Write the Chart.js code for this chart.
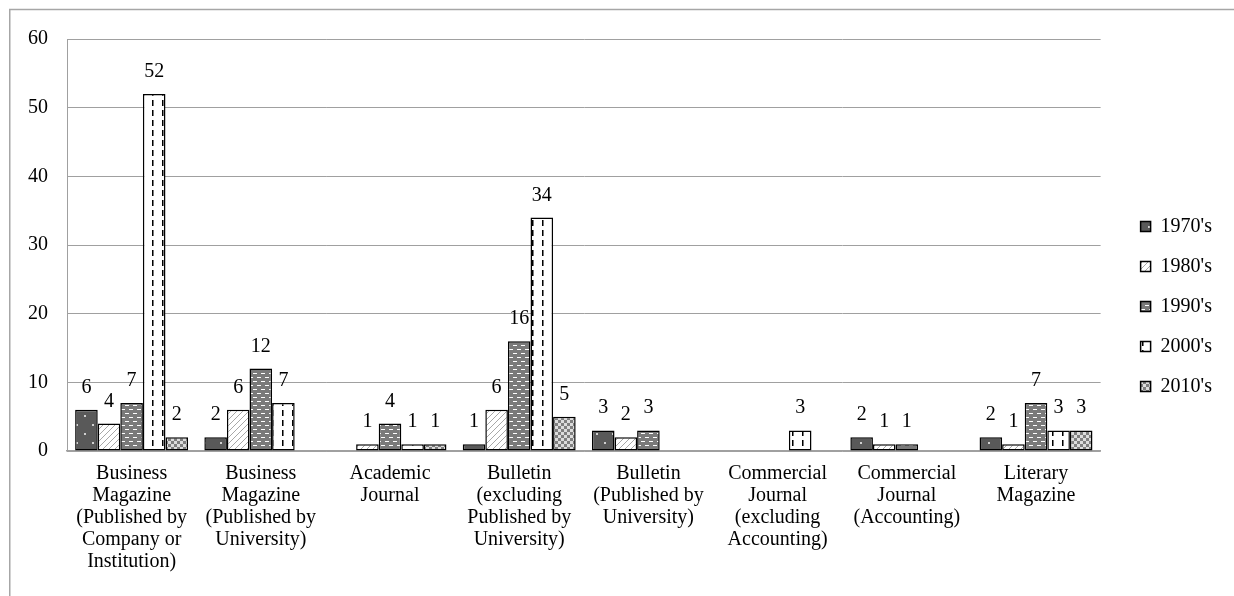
<!DOCTYPE html>
<html>
<head>
<meta charset="utf-8">
<script src="https://cdn.jsdelivr.net/npm/chart.js@4.4.1/dist/chart.umd.min.js"></script>
<style>
  html, body { margin: 0; padding: 0; background: #ffffff; }
  canvas { display: block; }
</style>
</head>
<body>
<canvas id="chart" width="1234" height="596"></canvas>
<script>
// Publication counts by type and decade
const categories = [
  ["Business", "Magazine", "(Published by", "Company or", "Institution)"],
  ["Business", "Magazine", "(Published by", "University)"],
  ["Academic", "Journal"],
  ["Bulletin", "(excluding", "Published by", "University)"],
  ["Bulletin", "(Published by", "University)"],
  ["Commercial", "Journal", "(excluding", "Accounting)"],
  ["Commercial", "Journal", "(Accounting)"],
  ["Literary", "Magazine"]
];
const decades = ["1970's", "1980's", "1990's", "2000's", "2010's"];
const counts1970s = [6, 2, null, 1, 3, null, 2, 2];
const counts1980s = [4, 6, 1, 6, 2, null, 1, 1];
const counts1990s = [7, 12, 4, 16, 3, null, 1, 7];
const counts2000s = [52, 7, 1, 34, null, 3, null, 3];
const counts2010s = [2, null, 1, 5, null, null, null, 3];
const yTicks = [0, 10, 20, 30, 40, 50, 60];

const FONT = '"Liberation Serif", "Times New Roman", serif';
const canvas = document.getElementById('chart');
const mainCtx = canvas.getContext('2d');

// Build a repeating fill pattern from a small tile
function makePattern(w, h, paint) {
  const c = document.createElement('canvas');
  c.width = w; c.height = h;
  const g = c.getContext('2d');
  paint(g, w, h);
  return mainCtx.createPattern(c, 'repeat');
}

// dark grey with sparse light dots
const dotted = makePattern(16, 18, (g, w, h) => {
  g.fillStyle = '#595959'; g.fillRect(0, 0, w, h);
  g.fillStyle = '#d0d0d0';
  g.fillRect(4, 1, 2, 2);
  g.fillRect(12, 10, 2, 2);
});
// white with light diagonal hatching
const hatched = makePattern(6, 6, (g, w, h) => {
  g.fillStyle = '#ffffff'; g.fillRect(0, 0, w, h);
  g.strokeStyle = '#a8a8a8'; g.lineWidth = 1;
  for (const k of [-6, 0, 6]) {
    g.beginPath(); g.moveTo(k, 6); g.lineTo(k + 6, 0); g.stroke();
  }
});
// grey with white brick dashes
const bricks = makePattern(8, 8, (g, w, h) => {
  g.fillStyle = '#7a7a7a'; g.fillRect(0, 0, w, h);
  g.fillStyle = '#ffffff';
  g.fillRect(1, 1, 4, 1);
  g.fillRect(5, 5, 3, 1);
  g.fillRect(0, 5, 1, 1);
});
// white with dashed vertical lines
const vdashed = makePattern(10, 10, (g, w, h) => {
  g.fillStyle = '#ffffff'; g.fillRect(0, 0, w, h);
  g.fillStyle = '#000000'; g.fillRect(2, 0, 1, 6);
  g.fillStyle = '#7a7a7a'; g.fillRect(3, 0, 1, 6);
});
// small grey checkerboard
const checker = makePattern(6, 6, (g, w, h) => {
  g.fillStyle = '#dcdcdc'; g.fillRect(0, 0, w, h);
  g.fillStyle = '#7f7f7f';
  g.fillRect(0, 0, 3, 3);
  g.fillRect(3, 3, 3, 3);
});

const seriesValues = [counts1970s, counts1980s, counts1990s, counts2000s, counts2010s];
const seriesFills = [dotted, hatched, bricks, vdashed, checker];

const datasets = decades.map((name, i) => ({
  label: name,
  data: seriesValues[i],
  backgroundColor: seriesFills[i],
  borderColor: '#000000',
  borderWidth: 1.5,
  borderSkipped: false
}));

// Value printed above each bar
const valueLabels = {
  id: 'valueLabels',
  afterDatasetsDraw(chart) {
    const ctx = chart.ctx;
    ctx.save();
    ctx.font = '20px ' + FONT;
    ctx.fillStyle = '#000000';
    ctx.textAlign = 'center';
    ctx.textBaseline = 'alphabetic';
    chart.data.datasets.forEach((ds, i) => {
      const meta = chart.getDatasetMeta(i);
      meta.data.forEach((bar, j) => {
        const v = ds.data[j];
        if (v === null || v === undefined) return;
        ctx.fillText(String(v), bar.x, bar.y - 17);
      });
    });
    ctx.restore();
  }
};

// Outer frame lines along the top and left edges
const frame = {
  id: 'frame',
  beforeDraw(chart) {
    const ctx = chart.ctx;
    ctx.save();
    ctx.fillStyle = '#ffffff';
    ctx.fillRect(0, 0, chart.width, chart.height);
    ctx.strokeStyle = '#a6a6a6';
    ctx.lineWidth = 1.5;
    ctx.beginPath();
    ctx.moveTo(9.75, chart.height);
    ctx.lineTo(9.75, 9.5);
    ctx.lineTo(chart.width, 9.5);
    ctx.stroke();
    ctx.restore();
  }
};

// Leave a gap between the plot and the legend column
const legendGap = {
  id: 'legendGap',
  afterLayout(chart) {
    if (chart.legend) {
      chart.legend.left += 20;
      chart.legend.right += 20;
    }
  }
};

new Chart(canvas, {
  type: 'bar',
  data: { labels: categories, datasets },
  plugins: [frame, valueLabels, legendGap],
  options: {
    responsive: false,
    animation: false,
    devicePixelRatio: 1,
    layout: { padding: { top: 39, bottom: 22, left: 0, right: 32 } },
    datasets: { bar: { categoryPercentage: 0.874, barPercentage: 1 } },
    plugins: {
      legend: {
        position: 'right',
        labels: {
          font: { family: FONT, size: 20 },
          color: '#000000',
          boxWidth: 10,
          boxHeight: 10,
          padding: 20
        }
      },
      tooltip: { enabled: false }
    },
    scales: {
      x: {
        grid: { display: false, drawTicks: false },
        border: { display: true, color: '#a0a0a0', width: 1.5 },
        ticks: {
          font: { family: FONT, size: 20, lineHeight: 1.1 },
          color: '#000000',
          padding: 12,
          maxRotation: 0,
          minRotation: 0,
          autoSkip: false
        },
        afterFit(scale) { scale.height = 123; }
      },
      y: {
        min: 0,
        max: 60,
        grid: { color: '#a0a0a0', lineWidth: 1, drawTicks: false },
        border: { display: true, color: '#a0a0a0', width: 1 },
        ticks: {
          font: { family: FONT, size: 20 },
          color: '#000000',
          padding: 19
        },
        afterBuildTicks(scale) { scale.ticks = yTicks.map(v => ({ value: v })); },
        afterFit(scale) { scale.width = 67; }
      }
    }
  }
});
</script>
</body>
</html>
